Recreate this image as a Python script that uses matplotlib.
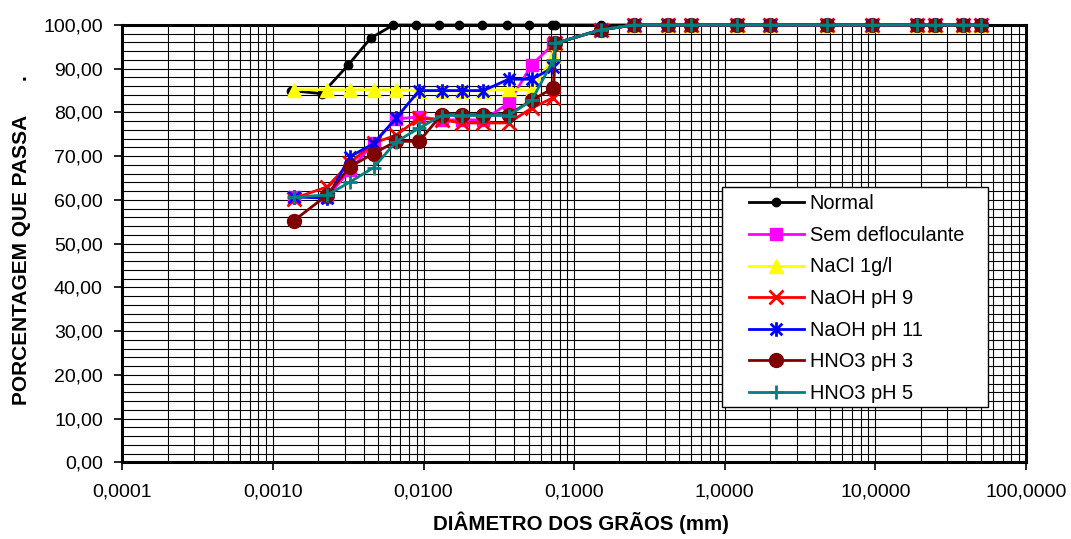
import numpy as np
import matplotlib
matplotlib.use("Agg")
import matplotlib.pyplot as plt
from matplotlib.path import Path
from matplotlib.patches import Rectangle
from matplotlib.ticker import LogLocator, MultipleLocator, FuncFormatter, NullFormatter, FixedLocator

plt.rcParams['font.family'] = ['Liberation Sans', 'DejaVu Sans']

# Grain diameters (mm): sedimentation readings and sieve openings
d_sed_normal = [0.00132, 0.00212, 0.00317, 0.00446, 0.00630, 0.00892,
                0.0127, 0.0173, 0.0244, 0.0360, 0.0504, 0.0716]
d_sed = [0.00137, 0.00229, 0.00325, 0.00466, 0.00657, 0.00934,
         0.0132, 0.0180, 0.0250, 0.0367, 0.0523, 0.0728]
d_sieve = [0.075, 0.15, 0.25, 0.42, 0.60, 1.2, 2.0, 4.8, 9.5, 19.0, 25.0, 38.0, 50.0]

# Percent passing
normal_sed = [85.0, 84.3, 90.9, 97.0, 100.0, 100.0, 100.0, 100.0, 100.0, 100.0, 100.0, 100.0]
normal_sieve = [100.0, 100.0, 100.0, 100.0, 100.0, 100.0, 100.0, 100.0, 100.0, 100.0, 100.0, 100.0, 100.0]

sem_sed = [60.7, 60.7, 66.8, 73.0, 78.5, 79.0, 78.3, 78.3, 78.3, 82.1, 90.9, 95.6]
nacl_sed = [85.2, 85.2, 85.2, 85.2, 85.2, 85.0, 85.0, 85.0, 85.0, 85.3, 85.1, 92.8]
naoh9_sed = [60.3, 63.0, 68.5, 73.0, 74.8, 78.7, 78.3, 77.6, 77.6, 77.6, 81.0, 83.4]
naoh11_sed = [60.7, 60.4, 69.9, 72.9, 78.7, 85.0, 85.0, 85.0, 85.0, 87.6, 87.6, 90.3]
hno3_3_sed = [55.2, 61.1, 67.6, 70.6, 73.4, 73.4, 79.5, 79.5, 79.5, 79.5, 82.8, 85.6]
hno3_5_sed = [60.7, 61.1, 64.1, 67.4, 73.3, 76.4, 79.3, 79.3, 79.3, 79.3, 82.8, 92.0]

sem_sieve = [95.8, 98.9, 100.0, 100.0, 100.0, 100.0, 100.0, 100.0, 100.0, 100.0, 100.0, 100.0, 100.0]
nacl_sieve = [95.8, 98.9, 100.0, 100.0, 100.0, 100.0, 100.0, 100.0, 100.0, 100.0, 100.0, 100.0, 100.0]
naoh9_sieve = [95.8, 98.9, 100.0, 100.0, 100.0, 100.0, 100.0, 100.0, 100.0, 100.0, 100.0, 100.0, 100.0]
naoh11_sieve = [95.8, 98.9, 100.0, 100.0, 100.0, 100.0, 100.0, 100.0, 100.0, 100.0, 100.0, 100.0, 100.0]
hno3_3_sieve = [95.8, 98.9, 100.0, 100.0, 100.0, 100.0, 100.0, 100.0, 100.0, 100.0, 100.0, 100.0, 100.0]
hno3_5_sieve = [95.8, 98.9, 100.0, 100.0, 100.0, 100.0, 100.0, 100.0, 100.0, 100.0, 100.0, 100.0, 100.0]

labels = ["Normal", "Sem defloculante", "NaCl 1g/l", "NaOH pH 9",
          "NaOH pH 11", "HNO3 pH 3", "HNO3 pH 5"]

x_ticks = [0.0001, 0.001, 0.01, 0.1, 1.0, 10.0, 100.0]

# six-armed asterisk: vertical bar plus two diagonals
asterisk = Path([(-1, -1), (1, 1), (-1, 1), (1, -1), (0, -1.25), (0, 1.25)],
                [Path.MOVETO, Path.LINETO, Path.MOVETO, Path.LINETO,
                 Path.MOVETO, Path.LINETO])

series = [
    (d_sed_normal, normal_sed, normal_sieve, dict(color='black', marker='o', ms=6)),
    (d_sed, sem_sed, sem_sieve, dict(color='#FF00FF', marker='s', ms=9)),
    (d_sed, nacl_sed, nacl_sieve, dict(color='#FFFF00', marker='^', ms=10)),
    (d_sed, naoh9_sed, naoh9_sieve, dict(color='#FF0000', marker='x', ms=9.5, mew=2)),
    (d_sed, naoh11_sed, naoh11_sieve, dict(color='#0000FF', marker=asterisk, ms=10.5, mew=2)),
    (d_sed, hno3_3_sed, hno3_3_sieve, dict(color='#800000', marker='o', ms=10)),
    (d_sed, hno3_5_sed, hno3_5_sieve, dict(color='#008080', marker='+', ms=10.5, mew=2)),
]

W, H = 1071, 539
fig = plt.figure(figsize=(W / 100, H / 100), dpi=100)
ax = fig.add_axes([122.3 / W, 1 - 462.3 / H, (1026 - 122.3) / W, (462.3 - 25) / H])

handles = []
for (dsed, psed, psieve, st), lab in zip(series, labels):
    x = list(dsed) + list(d_sieve)
    y = list(psed) + list(psieve)
    ln, = ax.plot(x, y, lw=2.0, label=lab, mec=st['color'], mfc=st['color'],
                  clip_on=False, zorder=3, **st)
    handles.append(ln)

ax.set_xscale('log')
ax.set_xlim(1e-4, 100)
ax.set_ylim(0, 100)

ax.xaxis.set_major_locator(FixedLocator(x_ticks))
ax.xaxis.set_minor_locator(LogLocator(base=10, subs=np.arange(2, 10), numticks=20))
ax.xaxis.set_minor_formatter(NullFormatter())
ax.xaxis.set_major_formatter(FuncFormatter(lambda v, p: f"{v:.4f}".replace('.', ',')))
ax.yaxis.set_major_locator(MultipleLocator(10))
ax.yaxis.set_minor_locator(MultipleLocator(2))
ax.yaxis.set_major_formatter(FuncFormatter(lambda v, p: f"{v:.2f}".replace('.', ',')))

ax.grid(True, which='both', color='black', lw=0.8, zorder=1)
ax.set_axisbelow(True)
ax.tick_params(which='major', direction='out', length=6, width=1.2, labelsize=14, color='black')
ax.tick_params(axis='y', which='major', pad=8)
ax.tick_params(axis='x', which='major', pad=9)
ax.tick_params(which='minor', length=0)
for s in ax.spines.values():
    s.set_linewidth(2.2)
    s.set_color('black')

ax.set_xlabel("DIÂMETRO DOS GRÃOS (mm)", fontsize=14.8, fontweight='bold')
ax.xaxis.set_label_coords((581 - 122.3) / 903.7, (462.3 - 523) / 437.3)
ax.xaxis.label.set_va('center')
ax.set_ylabel("PORCENTAGEM QUE PASSA      .", fontsize=15, fontweight='bold')
ax.yaxis.set_label_coords((22 - 122.3) / 903.7, (462.3 - 240) / 437.3)
ax.yaxis.label.set_va('center')

# legend box and entries
box = Rectangle((722 / W, 1 - 407 / H), (988 - 722) / W, (407 - 187) / H,
                transform=fig.transFigure, facecolor='white', edgecolor='black',
                lw=1.0, zorder=4.9, clip_on=False)
ax.add_patch(box)
leg = ax.legend(handles=handles, loc='upper left',
                bbox_to_anchor=(749 / W, 1 - 194.3 / H), bbox_transform=fig.transFigure,
                frameon=False, fontsize=14.4, borderpad=0, labelspacing=0.63,
                handlelength=2.74, handletextpad=0.3, borderaxespad=0)
leg.set_zorder(5)

fig.savefig("out.png", dpi=100)
